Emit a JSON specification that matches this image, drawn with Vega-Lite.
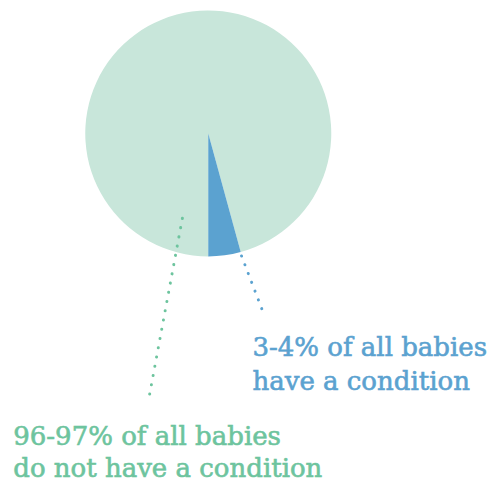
{
  "$schema": "https://vega.github.io/schema/vega-lite/v6.json",
  "width": 487,
  "height": 483,
  "autosize": {"type": "fit", "contains": "padding"},
  "padding": 0,
  "background": "white",
  "config": {"view": {"stroke": null}},
  "datasets": {
    "pie": [
      {"group": "no condition", "share": 95.75, "ord": 1},
      {"group": "condition", "share": 4.25, "ord": 2}
    ],
    "leaders": [
      {"group": "no condition", "x": -0.211, "y": -0.693, "x2": -0.491, "y2": -2.2},
      {"group": "condition", "x": 0.271, "y": -1.0, "x2": 0.447, "y2": -1.46}
    ],
    "labels": [
      {"group": "condition", "x": 0.36, "y": -1.82, "line": "3-4% of all babies"},
      {"group": "condition", "x": 0.36, "y": -2.093, "line": "have a condition"},
      {"group": "no condition", "x": -1.589, "y": -2.542, "line": "96-97% of all babies"},
      {"group": "no condition", "x": -1.589, "y": -2.805, "line": "do not have a condition"}
    ]
  },
  "layer": [
    {
      "data": {"name": "pie"},
      "mark": {"type": "arc", "radius": 123, "stroke": null},
      "encoding": {
        "x": {"datum": 0, "type": "quantitative", "scale": {"domain": [-1.697, 2.263], "nice": false, "zero": false}, "axis": null},
        "y": {"datum": 0, "type": "quantitative", "scale": {"domain": [-2.837, 1.089], "nice": false, "zero": false}, "axis": null},
        "theta": {"field": "share", "type": "quantitative", "stack": true, "scale": {"range": [3.14159265, 9.42477796]}},
        "order": {"field": "ord", "type": "quantitative"},
        "color": {"field": "group", "type": "nominal", "scale": {"domain": ["no condition", "condition"], "range": ["#c8e6da", "#5ba2d0"]}, "legend": null}
      }
    },
    {
      "data": {"name": "leaders"},
      "mark": {"type": "rule", "strokeWidth": 3, "strokeCap": "round", "strokeDash": [0.1, 9.3]},
      "encoding": {
        "x": {"field": "x", "type": "quantitative"},
        "y": {"field": "y", "type": "quantitative"},
        "x2": {"field": "x2"},
        "y2": {"field": "y2"},
        "color": {"field": "group", "type": "nominal", "scale": {"domain": ["no condition", "condition"], "range": ["#6dc49e", "#5ba2d0"]}, "legend": null}
      }
    },
    {
      "data": {"name": "labels"},
      "mark": {"type": "text", "align": "left", "baseline": "alphabetic", "font": "DejaVu Serif", "fontSize": 26, "strokeWidth": 0.6},
      "encoding": {
        "x": {"field": "x", "type": "quantitative"},
        "y": {"field": "y", "type": "quantitative"},
        "text": {"field": "line"},
        "color": {"field": "group", "type": "nominal", "scale": {"domain": ["no condition", "condition"], "range": ["#6dc49e", "#5ba2d0"]}, "legend": null},
        "stroke": {"field": "group", "type": "nominal", "scale": {"domain": ["no condition", "condition"], "range": ["#6dc49e", "#5ba2d0"]}, "legend": null}
      }
    }
  ],
  "resolve": {"scale": {"color": "independent", "stroke": "independent"}}
}
